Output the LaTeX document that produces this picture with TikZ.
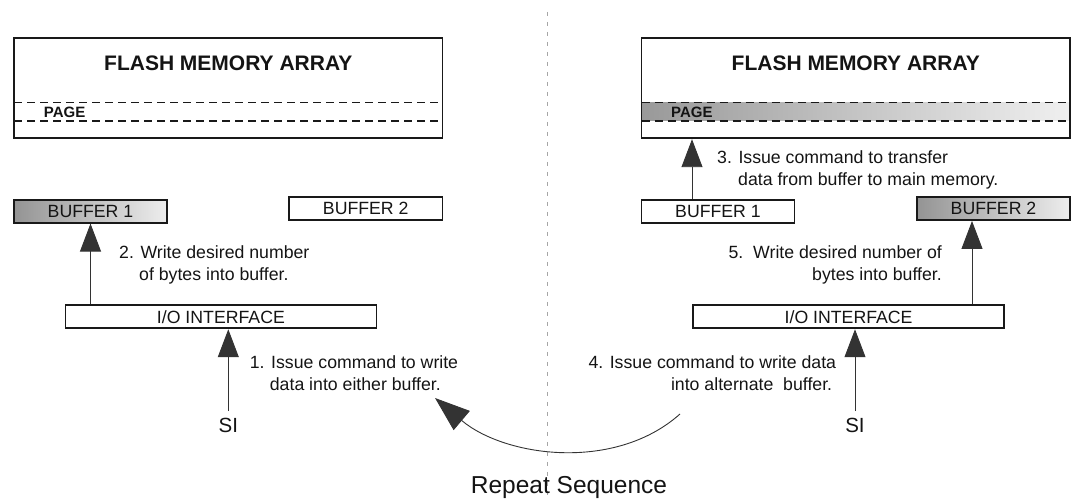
\documentclass[tikz,border=0pt]{standalone}
\usepackage{fontspec}
\setmainfont{Liberation Sans}
\usetikzlibrary{arrows.meta}
\begin{document}
\begin{tikzpicture}[x=1pt,y=-1pt,
  box/.style={draw=black!90, line width=1.8pt, rectangle, inner sep=0pt, text=black!92, font=\fontsize{17.7}{21}\selectfont},
  shadebox/.style={box, left color=black!42, right color=black!7},
  txt/.style={inner sep=0pt, text=black!92, font=\fontsize{17.7}{22}\selectfont},
  conn/.style={draw=black!80, line width=0.9pt},
  arr/.style={conn, -{Triangle[length=28pt,width=21pt]}},
  bigarr/.style={conn, -{Triangle[length=35pt,width=25pt]}},
  pagedash/.style={draw=black!90, line width=1.5pt, dash pattern=on 8pt off 5pt},
  titletext/.style={inner sep=0pt, font=\bfseries\fontsize{21}{25}\selectfont, text=black!92},
  pagelabel/.style={inner sep=0pt, font=\bfseries\fontsize{15}{18}\selectfont, text=black!92},
  silabel/.style={inner sep=0pt, font=\fontsize{20.5}{24}\selectfont, text=black!92},
  divider/.style={draw=black!35, line width=0.6pt, dash pattern=on 4pt off 6pt},
]
\useasboundingbox (0,0) rectangle (1074,502);

% divider
\draw[divider] (547,12) -- (547,495);

% ---------- left half ----------
\node[box, minimum width=428.5pt, minimum height=100.6pt] (lflash) at (228.25,88) {};
\node[titletext] (ltitle) at (228.25,63) {FLASH MEMORY ARRAY};
\draw[pagedash] (14,102.7) -- (442.5,102.7);
\draw[pagedash] (14,121) -- (442.5,121);
\node[pagelabel, anchor=west] (lpage) at (43.7,112) {PAGE};

\node[shadebox, minimum width=153pt, minimum height=22.7pt] (lbuf1) at (90.5,211.3) {BUFFER 1};
\node[box, minimum width=153.5pt, minimum height=23pt] (lbuf2) at (365.75,208.5) {BUFFER 2};
\node[box, minimum width=311pt, minimum height=23.3pt] (lio) at (220.9,316.7) {I/O INTERFACE};
\node[silabel] (lsi) at (228.3,425.7) {SI};

\draw[arr] (lbuf1.south |- lio.north) -- (lbuf1.south);
\draw[arr] ([yshift=7pt]lsi.north) -- (lsi.north |- lio.south);

\node[txt, anchor=north west, align=left] (t2) at (119,245.5)
  {2. Write desired number\\\hspace*{20pt}of bytes into buffer.};
\node[txt, anchor=north west, align=left] (t1) at (249.7,355.8)
  {1. Issue command to write\\\hspace*{20pt}data into either buffer.};

% ---------- right half ----------
\shade[left color=black!40, right color=black!6] (641.5,102.7) rectangle (1070,121);
\node[box, minimum width=428.5pt, minimum height=100.6pt] (rflash) at (855.75,88) {};
\node[titletext] (rtitle) at (855.75,63) {FLASH MEMORY ARRAY};
\draw[pagedash] (641.5,102.7) -- (1070,102.7);
\draw[pagedash] (641.5,121) -- (1070,121);
\node[pagelabel, anchor=west] (rpage) at (671,112) {PAGE};

\node[box, minimum width=153pt, minimum height=22.7pt] (rbuf1) at (718,211.3) {BUFFER 1};
\node[shadebox, minimum width=153pt, minimum height=23.3pt] (rbuf2) at (993.5,208.4) {BUFFER 2};
\node[box, minimum width=310.6pt, minimum height=23.3pt] (rio) at (848.6,316.7) {I/O INTERFACE};
\node[silabel] (rsi) at (855,425.7) {SI};

\draw[arr] ([xshift=-26pt]rbuf1.north) -- ([xshift=-26pt]rbuf1.north |- rflash.south);
\draw[arr] ([xshift=-21.5pt]rbuf2.south |- rio.north) -- ([xshift=-21.5pt]rbuf2.south);
\draw[arr] ([yshift=7pt]rsi.north) -- (rsi.north |- rio.south);

\node[txt, anchor=north west, align=left] (t3) at (717,150.4)
  {3. Issue command to transfer\\\hspace*{21pt}data from buffer to main memory.};
\node[txt, anchor=north east, align=right] (t5) at (942,245.5)
  {5.\ \ Write desired number of\\bytes into buffer.};
\node[txt, anchor=north east, align=right] (t4) at (836.3,355.8)
  {4. Issue command to write data\\into alternate\ \ buffer.\hspace*{4pt}};

% ---------- repeat ----------
\coordinate (cstart) at (680,414);
\coordinate (ctip) at (435,398);
\draw[bigarr] (cstart) .. controls (615,472) and (505,457) .. (ctip);
\node[inner sep=0pt, font=\fontsize{24.5}{28}\selectfont, text=black!92] (rep) at (569,487) {Repeat Sequence};
\end{tikzpicture}
\end{document}
